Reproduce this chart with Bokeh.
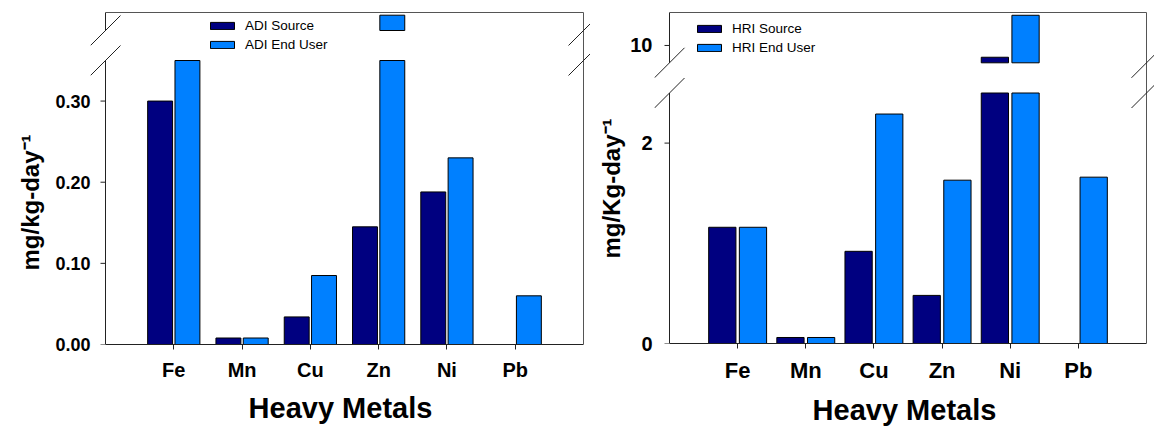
from bokeh.plotting import figure
from bokeh.models import (Range1d, LinearAxis, FixedTicker, Legend, LegendItem,
                          ColumnDataSource, Title)
from bokeh.layouts import row
from bokeh.embed import file_html
from bokeh.resources import INLINE

# ---------------- data ----------------
metals = ["Fe", "Mn", "Cu", "Zn", "Ni", "Pb"]

adi_source = [0.300, 0.008, 0.034, 0.145, 0.188, 0.0]
adi_end_user = [0.350, 0.008, 0.085, 0.985, 0.230, 0.060]
adi_ticks = [0.0, 0.1, 0.2, 0.3]
adi_tick_labels = ["0.00", "0.10", "0.20", "0.30"]

hri_source = [1.16, 0.06, 0.92, 0.48, 9.66, 0.0]
hri_end_user = [1.16, 0.06, 2.29, 1.63, 10.87, 1.66]
hri_ticks = [0, 2, 10]
hri_tick_labels = ["0", "2", "10"]

FONT = "Liberation Sans"
NAVY = "#000080"
BLUE = "#0080ff"
AX = "#222222"
BORDER = "#555555"


def make_panel(src_vals, end_vals, ticks, tick_labels, names, cfg):
    fw, H = cfg["axis_w"], cfg["axis_h"]          # pixel size of the drawn axes box
    el, er, et = cfg["ext_l"], cfg["ext_r"], cfg["ext_t"]
    ppx = fw / 7.0                                  # px per category unit
    low_max = cfg["low_max"]
    ppl = cfg["low_frac"] * H / low_max            # px per unit, lower segment
    up_lo, up_hi = cfg["up_lim"]
    y_up0 = cfg["up_frac"] * H                     # px where upper segment starts
    ppu = (H - y_up0) / (up_hi - up_lo)            # px per unit, upper segment

    def to_low(v):
        if v <= low_max:
            return v
        return round((y_up0 + (v - up_lo) * ppu) / ppl, 6)

    p = figure(frame_width=fw + el + er, frame_height=H + et,
               x_range=Range1d(-el / ppx, 7 + er / ppx),
               y_range=Range1d(0, (H + et) / ppl),
               min_border_left=cfg["bl"], min_border_right=0,
               min_border_top=cfg["bt"], min_border_bottom=cfg["bb"],
               x_axis_location=None, y_axis_location=None,
               output_backend="svg", toolbar_location=None,
               outline_line_color=None, background_fill_color="white",
               border_fill_color="white")
    p.extra_y_ranges = {"upper": Range1d(up_lo - y_up0 / ppu, up_lo + (H + et - y_up0) / ppu)}
    p.xgrid.visible = False
    p.ygrid.visible = False

    off, bw = cfg["offset"], cfg["bar_w"]
    xs = [i + 1 for i in range(len(src_vals))]

    renderers = []
    for vals, color, sign in ((src_vals, NAVY, -1), (end_vals, BLUE, 1)):
        lo = ColumnDataSource(dict(x=[x + sign * off for x in xs],
                                   top=[min(v, low_max) for v in vals]))
        r = p.vbar(x="x", top="top", bottom=0, width=bw, source=lo,
                   fill_color=color, line_color="black", line_width=1)
        renderers.append(r)
        hi_x = [x + sign * off for x, v in zip(xs, vals) if v > low_max]
        hi_t = [v for v in vals if v > low_max]
        if hi_x:
            hi = ColumnDataSource(dict(x=hi_x, top=hi_t))
            p.vbar(x="x", top="top", bottom=up_lo, width=bw, source=hi,
                   y_range_name="upper", fill_color=color,
                   line_color="black", line_width=1)

    # y tick labels from the library axis; axis line / ticks drawn at x = 0
    pos = [to_low(t) for t in ticks]
    yax = LinearAxis(ticker=FixedTicker(ticks=pos),
                     major_label_overrides={q: lab for q, lab in zip(pos, tick_labels)},
                     axis_line_color=None, major_tick_in=0, major_tick_out=0,
                     major_tick_line_color=None, minor_tick_line_color=None,
                     major_label_standoff=cfg["ystandoff"],
                     major_label_text_font=FONT, major_label_text_font_style="bold",
                     major_label_text_font_size=cfg["ytick_size"],
                     major_label_text_color="black")
    p.add_layout(yax, "left")
    p.add_layout(Title(text=cfg["ylabel"], align="left", offset=cfg["ylab_offset"],
                       standoff=cfg["ylab_standoff"], text_font=FONT,
                       text_font_style="bold", text_font_size=cfg["ylabel_size"],
                       text_color="black"), "left")

    xax = LinearAxis(ticker=FixedTicker(ticks=xs), bounds=(0, 7),
                     major_label_overrides={x: n for x, n in zip(xs, names)},
                     axis_line_color=AX, axis_line_width=1,
                     major_tick_in=0, major_tick_out=5, major_tick_line_color=AX,
                     minor_tick_line_color=None,
                     major_label_standoff=cfg["xstandoff"],
                     major_label_text_font=FONT, major_label_text_font_style="bold",
                     major_label_text_font_size=cfg["xtick_size"],
                     major_label_text_color="black",
                     axis_label="Heavy Metals", axis_label_text_font=FONT,
                     axis_label_text_font_style="bold",
                     axis_label_text_font_size=cfg["xlabel_size"],
                     axis_label_standoff=cfg["xlabel_standoff"],
                     axis_label_text_color="black")
    p.add_layout(xax, "below")

    top = H / ppl
    up0 = y_up0 / ppl
    tk = 5 / ppx
    dx, dy = 15 / ppx, 15 / ppl
    # broken y-axis line + tick marks
    ax_src = dict(x0=[0, 0] + [-tk] * len(pos), y0=[0, up0] + pos,
                  x1=[0, 0] + [0] * len(pos), y1=[low_max, top] + pos)
    p.segment(x0="x0", y0="y0", x1="x1", y1="y1", source=ColumnDataSource(ax_src),
              line_color=AX, line_width=1)
    # top and right frame borders
    p.segment(x0=[0, 7], y0=[top, 0], x1=[7, 7], y1=[top, top],
              line_color=BORDER, line_width=1)
    # axis break marks
    bx0, by0, bx1, by1 = [], [], [], []
    for xe in (0, 7):
        for yb in (low_max, up0):
            bx0.append(xe - dx); by0.append(yb - dy)
            bx1.append(xe + dx); by1.append(yb + dy)
    p.segment(x0=bx0, y0=by0, x1=bx1, y1=by1, line_color=AX, line_width=1)

    legend = Legend(items=[LegendItem(label=cfg["leg"][0], renderers=[renderers[0]]),
                           LegendItem(label=cfg["leg"][1], renderers=[renderers[1]])],
                    location=cfg["leg_loc"], padding=0, margin=0, spacing=3,
                    glyph_width=30, glyph_height=9, label_height=16,
                    label_standoff=8, label_text_font=FONT,
                    label_text_font_size="13.5px", label_text_color="black",
                    border_line_color=None, background_fill_alpha=0)
    p.add_layout(legend)
    return p


left_cfg = dict(axis_w=478, axis_h=332, ext_l=15, ext_r=7, ext_t=3, bl=90, bt=7, bb=85,
                low_max=0.35, low_frac=284 / 332, up_lim=(0.9, 1.0), up_frac=314 / 332,
                offset=0.2, bar_w=0.365, ystandoff=0, xstandoff=9,
                ytick_size="18px", xtick_size="20px", xlabel_size="29px", xlabel_standoff=8,
                ylabel="mg/kg-day\u207b\u00b9", ylabel_size="24px",
                ylab_offset=74, ylab_standoff=17,
                leg=("ADI Source", "ADI End User"), leg_loc=(117, 292))

right_cfg = dict(axis_w=477, axis_h=331, ext_l=15, ext_r=8, ext_t=3, bl=64, bt=9, bb=84,
                 low_max=2.5, low_frac=250.5 / 331, up_lim=(9.5, 10.95), up_frac=280.7 / 331,
                 offset=0.225, bar_w=0.40, ystandoff=2, xstandoff=9,
                 ytick_size="20px", xtick_size="22px", xlabel_size="29px", xlabel_standoff=8,
                 ylabel="mg/Kg-day\u207b\u00b9", ylabel_size="24px",
                 ylab_offset=85, ylab_standoff=5,
                 leg=("HRI Source", "HRI End User"), leg_loc=(40, 288))

p_left = make_panel(adi_source, adi_end_user, adi_ticks, adi_tick_labels, metals, left_cfg)
p_right = make_panel(hri_source, hri_end_user, hri_ticks, hri_tick_labels, metals, right_cfg)

layout = row(p_left, p_right, spacing=0)
open("out.html", "w").write(file_html(layout, INLINE))
